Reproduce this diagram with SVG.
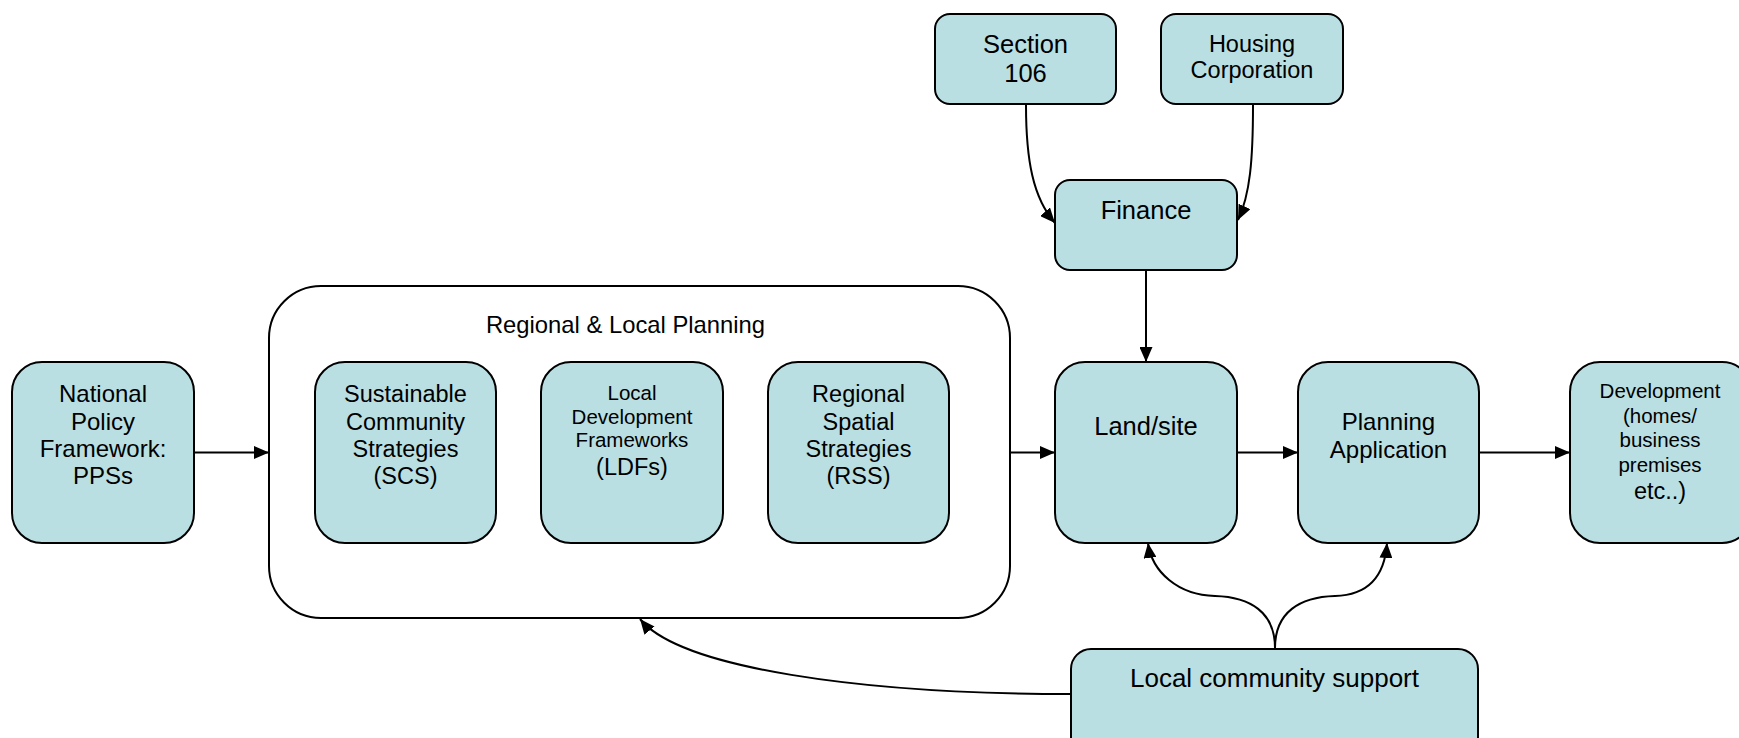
<svg xmlns="http://www.w3.org/2000/svg" width="1739" height="738" viewBox="0 0 1739 738">
<defs>
<style>
.n{fill:#b9dfe3;stroke:#000;stroke-width:2}
.c{fill:none;stroke:#000;stroke-width:2}
text{font-family:"Liberation Sans",Arial,sans-serif;fill:#000;text-anchor:middle}
</style>
<marker id="ah" viewBox="0 0 15 13" refX="15" refY="6.5" markerWidth="15" markerHeight="13" markerUnits="userSpaceOnUse" orient="auto">
<path d="M0,0 L15,6.5 L0,13 Z" fill="#000"/>
</marker>
</defs>
<rect width="1739" height="738" fill="#fff"/>
<g id="regional-local-planning">
<rect x="269" y="286" width="741" height="332" rx="52" ry="52" fill="#fff" stroke="#000" stroke-width="2"/>
<text x="625.5" y="333" font-size="23.8">Regional &amp; Local Planning</text>
</g>
<g id="connectors">
<path class="c" d="M194,452.5 L269,452.5" marker-end="url(#ah)"/>
<path class="c" d="M1010,452.5 L1055,452.5" marker-end="url(#ah)"/>
<path class="c" d="M1237,452.5 L1298,452.5" marker-end="url(#ah)"/>
<path class="c" d="M1479,452.5 L1570,452.5" marker-end="url(#ah)"/>
<path class="c" d="M1146,270 L1146,362" marker-end="url(#ah)"/>
<path class="c" d="M1026,105 C1026,160 1033,198 1055,223" marker-end="url(#ah)"/>
<path class="c" d="M1253,105 C1253,160 1250,195 1238,220" marker-end="url(#ah)"/>
<path class="c" d="M1071,694 C860,694 680,668 640,619" marker-end="url(#ah)"/>
<path class="c" d="M1275,648 C1275,612 1250,597 1215,596 C1178,595 1152,572 1148,543" marker-end="url(#ah)"/>
<path class="c" d="M1275,648 C1275,612 1300,597 1335,596 C1372,595 1385,572 1387,543" marker-end="url(#ah)"/>
</g>
<g id="section-106">
<rect class="n" x="935" y="14" width="181" height="90" rx="15"/>
<text x="1025.5" y="53" font-size="25.5">Section</text>
<text x="1025.5" y="82" font-size="25.5">106</text>
</g>
<g id="housing-corporation">
<rect class="n" x="1161" y="14" width="182" height="90" rx="15"/>
<text x="1252" y="52" font-size="23.5">Housing</text>
<text x="1252" y="78" font-size="23.5">Corporation</text>
</g>
<g id="finance">
<rect class="n" x="1055" y="180" width="182" height="90" rx="15"/>
<text x="1146" y="219" font-size="25.5">Finance</text>
</g>
<g id="national-policy">
<rect class="n" x="12" y="362" width="182" height="181" rx="30"/>
<text x="103" y="402" font-size="24">National</text>
<text x="103" y="430" font-size="24">Policy</text>
<text x="103" y="457" font-size="24">Framework:</text>
<text x="103" y="484" font-size="24">PPSs</text>
</g>
<g id="scs">
<rect class="n" x="315" y="362" width="181" height="181" rx="30"/>
<text x="405.5" y="402" font-size="23.5">Sustainable</text>
<text x="405.5" y="430" font-size="23.5">Community</text>
<text x="405.5" y="457" font-size="23.5">Strategies</text>
<text x="405.5" y="484" font-size="23.5">(SCS)</text>
</g>
<g id="ldf">
<rect class="n" x="541" y="362" width="182" height="181" rx="30"/>
<text x="632" y="400" font-size="20.5">Local</text>
<text x="632" y="424" font-size="20.5">Development</text>
<text x="632" y="447" font-size="20.5">Frameworks</text>
<text x="632" y="475" font-size="23.5">(LDFs)</text>
</g>
<g id="rss">
<rect class="n" x="768" y="362" width="181" height="181" rx="30"/>
<text x="858.5" y="402" font-size="23.5">Regional</text>
<text x="858.5" y="430" font-size="23.5">Spatial</text>
<text x="858.5" y="457" font-size="23.5">Strategies</text>
<text x="858.5" y="484" font-size="23.5">(RSS)</text>
</g>
<g id="land-site">
<rect class="n" x="1055" y="362" width="182" height="181" rx="30"/>
<text x="1146" y="435" font-size="25.5">Land/site</text>
</g>
<g id="planning-application">
<rect class="n" x="1298" y="362" width="181" height="181" rx="30"/>
<text x="1388.5" y="430" font-size="24">Planning</text>
<text x="1388.5" y="458" font-size="24">Application</text>
</g>
<g id="development">
<rect class="n" x="1570" y="362" width="182" height="181" rx="30"/>
<text x="1660" y="398" font-size="20.5">Development</text>
<text x="1660" y="423" font-size="20.5">(homes/</text>
<text x="1660" y="447" font-size="20.5">business</text>
<text x="1660" y="472" font-size="20.5">premises</text>
<text x="1660" y="499" font-size="23.5">etc..)</text>
</g>
<g id="local-community-support">
<rect class="n" x="1071" y="649" width="407" height="110" rx="20"/>
<text x="1274.5" y="687" font-size="26">Local community support</text>
</g>
</svg>
